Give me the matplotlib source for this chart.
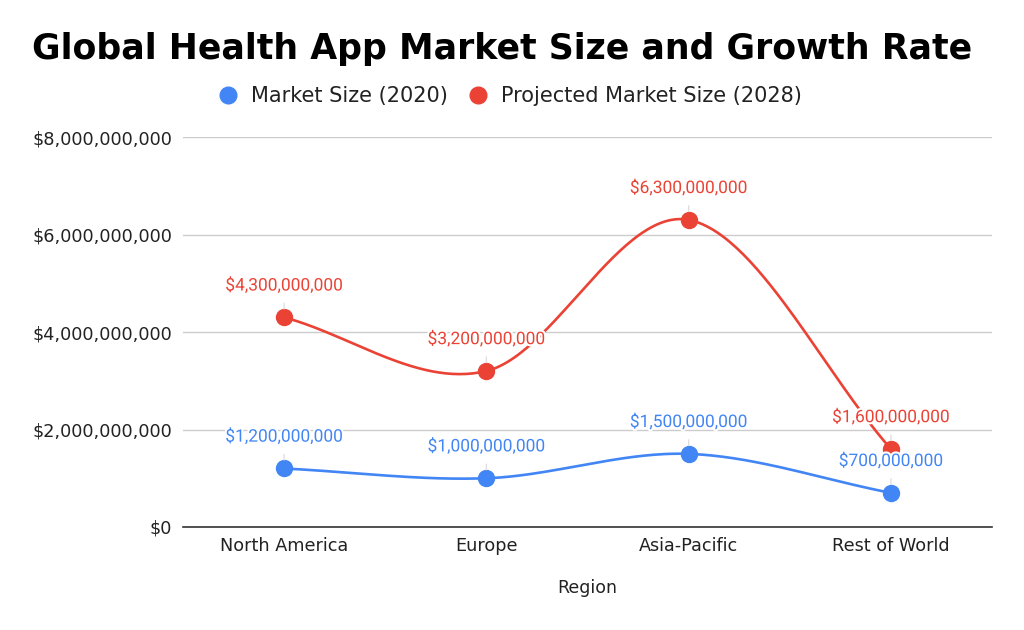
import matplotlib
matplotlib.use("Agg")
import matplotlib.pyplot as plt
import matplotlib.patheffects as pe
from matplotlib.lines import Line2D
from matplotlib.ticker import FuncFormatter
import numpy as np

# Data
regions = ["North America", "Europe", "Asia-Pacific", "Rest of World"]
size_2020 = [1.2e9, 1.0e9, 1.5e9, 0.7e9]
size_2028 = [4.3e9, 3.2e9, 6.3e9, 1.6e9]

blue = "#4285F4"
red = "#EA4335"


# Smooth the drawn line through the points (Catmull-Rom style, like curveType 'function')
def smooth(ys, steps=60):
    ys = np.asarray(ys, dtype=float)
    n = len(ys)
    m = np.zeros(n)
    m[0] = ys[1] - ys[0]
    m[-1] = ys[-1] - ys[-2]
    for i in range(1, n - 1):
        m[i] = (ys[i + 1] - ys[i - 1]) / 2
    xs_out, ys_out = [], []
    for i in range(n - 1):
        t = np.linspace(0, 1, steps)
        h00 = 2 * t**3 - 3 * t**2 + 1
        h10 = t**3 - 2 * t**2 + t
        h01 = -2 * t**3 + 3 * t**2
        h11 = t**3 - t**2
        xs_out.append(i + t)
        ys_out.append(h00 * ys[i] + h10 * m[i] + h01 * ys[i + 1] + h11 * m[i + 1])
    return np.concatenate(xs_out), np.concatenate(ys_out)


fig = plt.figure(figsize=(10.24, 6.3), dpi=100)
ax = fig.add_axes([0.1787, 0.1635, 0.7901, 0.619])

x = np.arange(len(regions))
for vals, col in [(size_2020, blue), (size_2028, red)]:
    sx, sy = smooth(vals)
    ax.plot(sx, sy, color=col, lw=1.9, zorder=3, solid_capstyle="round")
for vals, col in [(size_2020, blue), (size_2028, red)]:
    ax.plot(x, vals, "o", color=col, ms=11.5, zorder=4)

# Data labels with a thin leader line
for vals, col in [(size_2028, red), (size_2020, blue)]:
    for xi, v in zip(x, vals):
        ax.annotate("${:,.0f}".format(v), xy=(xi, v), xytext=(0, 23),
                    textcoords="offset points", ha="center", va="center",
                    fontsize=12.5, family="Roboto", color=col, zorder=5,
                    arrowprops=dict(arrowstyle="-", color="#dddddd", lw=0.9,
                                    shrinkA=5, shrinkB=6),
                    path_effects=[pe.withStroke(linewidth=3, foreground="white")])

ax.set_xlim(-0.5, 3.5)
ax.set_ylim(0, 8e9)
ax.set_yticks([0, 2e9, 4e9, 6e9, 8e9])
ax.yaxis.set_major_formatter(FuncFormatter(lambda v, p: "${:,.0f}".format(v)))
ax.set_xticks(x)
ax.set_xticklabels(regions)
ax.tick_params(axis="both", length=0, labelsize=12.7, labelcolor="#222222")
ax.tick_params(axis="y", pad=8)
ax.tick_params(axis="x", pad=7.5)
ax.grid(axis="y", color="#cccccc", lw=1)
ax.set_axisbelow(True)
for s in ["top", "right", "left"]:
    ax.spines[s].set_visible(False)
ax.spines["bottom"].set_color("#333333")
ax.spines["bottom"].set_linewidth(1.2)
ax.spines["bottom"].set_zorder(2)

ax.set_xlabel("Region", fontsize=12.5, color="#222222", labelpad=17)

fig.text(32 / 1024, 0.923, "Global Health App Market Size and Growth Rate",
         ha="left", va="center", fontsize=25, fontweight="bold")

handles = [Line2D([], [], marker="o", ls="", color=blue, ms=12),
           Line2D([], [], marker="o", ls="", color=red, ms=12)]
fig.legend(handles, ["Market Size (2020)", "Projected Market Size (2028)"],
           loc="center", bbox_to_anchor=(0.493, 0.847), ncol=2, frameon=False,
           fontsize=15, handletextpad=0.1, columnspacing=0.45,
           labelcolor="#222222")

fig.savefig("out.png", dpi=100)
